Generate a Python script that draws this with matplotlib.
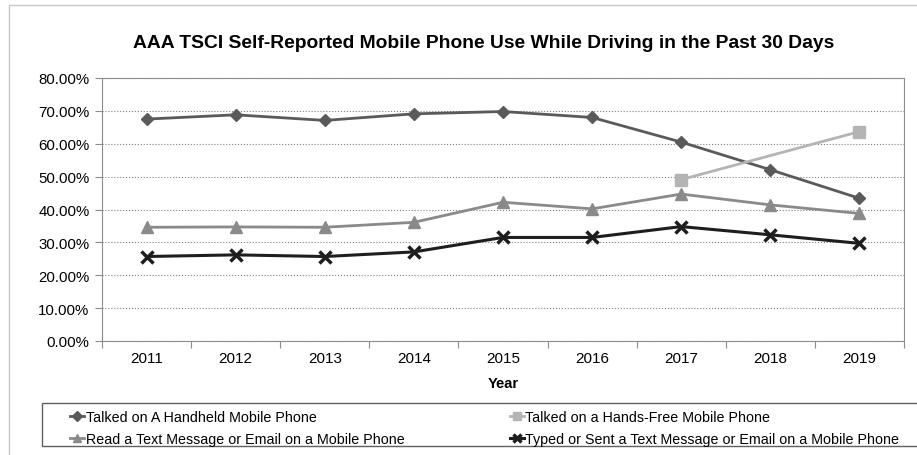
import matplotlib.pyplot as plt
from matplotlib.patches import Rectangle
from matplotlib.ticker import FuncFormatter, MultipleLocator

years = [2011, 2012, 2013, 2014, 2015, 2016, 2017, 2018, 2019]
handheld = [67.5, 68.8, 67.1, 69.1, 69.8, 68.0, 60.5, 52.1, 43.4]
handsfree_years = [2017, 2019]
handsfree = [49.1, 63.7]
read_text = [34.6, 34.7, 34.6, 36.1, 42.2, 40.2, 44.7, 41.4, 38.8]
typed_text = [25.7, 26.2, 25.7, 27.1, 31.5, 31.5, 34.8, 32.3, 29.7]

labels = ['Talked on A Handheld Mobile Phone',
          'Talked on a Hands-Free Mobile Phone',
          'Read a Text Message or Email on a Mobile Phone',
          'Typed or Sent a Text Message or Email on a Mobile Phone']

plt.rcParams['font.family'] = ['Liberation Sans', 'DejaVu Sans']

fig = plt.figure(figsize=(9.17, 4.56), dpi=100)
ax = fig.add_axes([102/917, 1 - 342/456, (904 - 102)/917, (342 - 79)/456])

# contorn exterior del grafic
fig.patches.append(Rectangle((9/917, -0.1), 1.2, (456 - 6)/456 + 0.1,
                             transform=fig.transFigure, fill=False,
                             edgecolor='#c8c8c8', lw=1))

l1, = ax.plot(years, handheld, color='#5a5a5a', lw=2, marker='D', ms=6.5)
l2, = ax.plot(handsfree_years, handsfree, color='#b4b4b4', lw=2, marker='s', ms=8)
l3, = ax.plot(years, read_text, color='#8a8a8a', lw=2, marker='^', ms=8)
l4, = ax.plot(years, typed_text, color='#1e1e1e', lw=2.2, marker='x', ms=8, mew=2.5)

ax.set_xlim(2010.5, 2019.5)
ax.set_ylim(0, 80)
ax.yaxis.set_major_locator(MultipleLocator(10))
ax.yaxis.set_major_formatter(FuncFormatter(lambda v, p: '%.2f%%' % v))
ax.set_xticks([y + 0.5 for y in [2010] + years])
ax.set_xticklabels([])
ax.set_xticks(years, minor=True)
ax.set_xticklabels([str(y) for y in years], minor=True)
ax.tick_params(axis='x', which='minor', length=0, pad=7, labelsize=11)
ax.tick_params(axis='x', which='major', length=5, color='#8c8c8c')
ax.tick_params(axis='y', length=5, color='#8c8c8c', labelsize=10.8, pad=4)

ax.grid(axis='y', linestyle=':', color='#808080', lw=0.8)
for s in ax.spines.values():
    s.set_color('#8c8c8c')

ax.set_xlabel('Year', fontweight='bold', fontsize=10.5, labelpad=8)
fig.text(484/917, 1 - 44/456, 'AAA TSCI Self-Reported Mobile Phone Use While Driving in the Past 30 Days',
         ha='center', va='center', fontsize=13.9, fontweight='bold')

# llegenda (ordre per files)
fig.patches.append(Rectangle((42/917, 1 - 447/456), 1.0, 43/456,
                             transform=fig.transFigure, fill=False,
                             edgecolor='#606060', lw=1))
leg = fig.legend([l1, l3, l2, l4], [labels[0], labels[2], labels[1], labels[3]],
                 ncol=2, loc='upper left',
                 bbox_to_anchor=(57/917, 1 - 398/456), frameon=False,
                 handlelength=1.0, handletextpad=0.1, columnspacing=7.35,
                 labelspacing=0.55, markerscale=0.8,
                 prop={'size': 10.3})

fig.savefig('out.png', dpi=100)
